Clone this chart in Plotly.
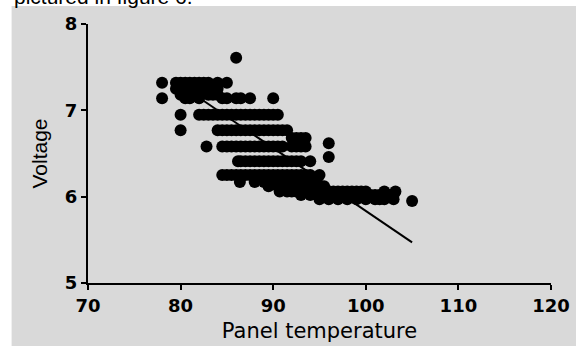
import plotly.graph_objects as go

# ---- data: temperature lists per voltage level ----
v_761 = [86]
v_732 = [78, 79.5, 80, 80.5, 81, 81.5, 82, 82.5, 83, 84, 85]
v_725 = [79.5, 80, 81, 82, 83, 83.5, 84]
v_718 = [80, 80.5, 81, 81.5, 82, 83, 83.5, 84]
v_714 = [78, 80.5, 81, 82, 84.5, 85, 86, 86.5, 87.5, 90]
v_695 = [80, 82, 82.5, 83, 83.5, 84, 84.5, 85, 85.5, 86, 86.5, 87, 87.5, 88, 88.5, 89, 89.5, 90, 90.5]
v_677 = [80, 84, 84.5, 85, 85.5, 86, 86.5, 87, 87.5, 88, 88.5, 89, 89.5, 90, 90.5, 91, 91.5]
v_668 = [92, 92.5, 93, 93.5]
v_662 = [96]
v_658 = [82.8, 84.5, 85, 85.5, 86, 86.5, 87, 87.5, 88, 88.5, 89, 89.5, 90, 90.5, 91, 92, 92.5, 93, 93.5]
v_646 = [96]
v_641 = [86.2, 86.5, 87, 87.5, 88, 88.5, 89, 89.5, 90, 90.5, 91, 91.5, 92, 92.5, 93, 94]
v_625 = [84.5, 85, 85.5, 86, 86.5, 87, 87.5, 88, 88.5, 89, 89.5, 90, 90.5, 91, 91.5, 92, 92.5, 93, 93.5, 94, 95]
v_617 = [86.4, 88, 89, 90, 91, 92, 93, 94, 94.5]
v_612 = [89.5, 90.5, 91, 91.5, 92, 92.5, 93, 93.5, 94, 94.5, 95, 95.5]
v_606 = [90.7, 91.5, 92, 92.5, 93, 93.5, 94, 94.5, 95, 95.5, 96, 96.5, 97, 97.5, 98, 98.5, 99, 99.5, 100, 102, 103.2]
v_602 = [93, 94, 95, 96, 96.5, 97, 97.5, 98, 98.5, 99, 99.5, 100, 100.5, 101, 101.5, 102, 102.5, 103]
v_597 = [95, 96, 97, 98, 99, 100, 101, 101.5, 102, 103]
v_595 = [105]

levels = [7.61, 7.32, 7.25, 7.18, 7.14, 6.95, 6.77, 6.68, 6.62, 6.58, 6.46, 6.41,
          6.25, 6.17, 6.12, 6.06, 6.02, 5.97, 5.95]
rows = [v_761, v_732, v_725, v_718, v_714, v_695, v_677, v_668, v_662, v_658, v_646,
        v_641, v_625, v_617, v_612, v_606, v_602, v_597, v_595]

# regression line end points
fit_x = [81.8, 105]
fit_y = [7.16, 5.47]

x_ticks = [70, 80, 90, 100, 110, 120]
y_ticks = [5, 6, 7, 8]

temps, volts = [], []
for lv, r in zip(levels, rows):
    temps += r
    volts += [lv] * len(r)

fig = go.Figure()
fig.add_trace(go.Scatter(x=temps, y=volts, mode="markers",
                         marker=dict(color="black", size=12, line=dict(width=0)),
                         showlegend=False, cliponaxis=False))
fig.add_trace(go.Scatter(x=fit_x, y=fit_y, mode="lines",
                         line=dict(color="black", width=2), showlegend=False))

tickfont = dict(family="DejaVu Sans, sans-serif", size=18, color="black")
fig.update_layout(
    width=576, height=346,
    margin=dict(l=88, r=25, t=24, b=63),
    paper_bgcolor="white", plot_bgcolor="rgba(0,0,0,0)",
    font=dict(family="Liberation Sans, Arial, sans-serif", color="black"),
    xaxis=dict(range=[70, 120], tickvals=x_ticks, ticktext=[f"<b>{t}</b>" for t in x_ticks],
               automargin=False,
               showgrid=False, zeroline=False, showline=True, linecolor="black", linewidth=2,
               ticks="outside", ticklen=5, tickwidth=2, tickcolor="black", tickfont=tickfont,
               title=dict(text="Panel temperature",
                          font=dict(family="DejaVu Sans, sans-serif", size=21), standoff=9)),
    yaxis=dict(range=[5, 8], tickvals=y_ticks, ticktext=[f"<b>{t}</b>" for t in y_ticks],
               automargin=False,
               showgrid=False, zeroline=False, showline=True, linecolor="black", linewidth=2,
               ticks="outside", ticklen=5, tickwidth=2, tickcolor="black", tickfont=tickfont,
               title=dict(text="Voltage", font=dict(size=21), standoff=12)),
    shapes=[dict(type="rect", xref="paper", yref="paper", x0=-0.165, x1=1.06,
                 y0=-0.25, y1=(283 - 6) / 259, fillcolor="#d9d9d9", line=dict(width=0),
                 layer="below")],
    annotations=[dict(text="pictured in figure 6.", xref="paper", yref="paper",
                      x=(12 - 88) / 463, y=(283 - 10) / 259, xanchor="left", yanchor="bottom",
                      showarrow=False, font=dict(size=21, color="black"))],
)

fig.write_html("out.html")
